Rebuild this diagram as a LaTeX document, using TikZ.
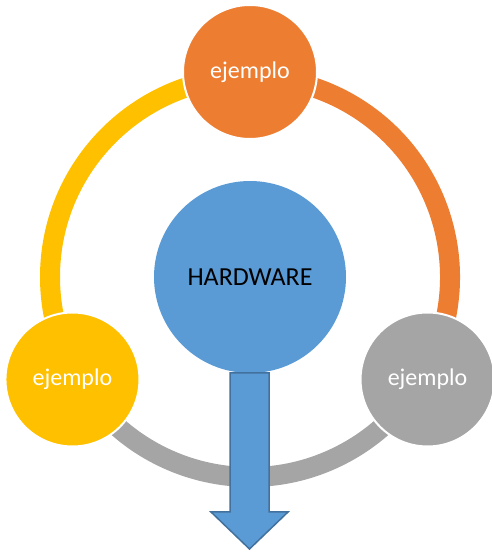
\documentclass[tikz,border=0pt]{standalone}
\usepackage{fontspec}
\setmainfont{Carlito}
\usepackage{xcolor}
\usepackage{tikz}
\usetikzlibrary{positioning, calc}

\definecolor{hwblue}{HTML}{5B9BD5}
\definecolor{hwblueline}{HTML}{41719C}
\definecolor{hworange}{HTML}{ED7D31}
\definecolor{hwyellow}{HTML}{FFC000}
\definecolor{hwgray}{HTML}{A5A5A5}

\tikzset{
  satellite/.style={circle, draw=white, line width=2pt, minimum size=134pt,
    inner sep=0pt, text=white, font=\fontsize{24}{28}\selectfont},
  ringarc/.style={line width=20pt},
}

\begin{document}
\begin{tikzpicture}[x=1pt,y=1pt]
    \def\ringr{200}
    \def\satr{205}
    \useasboundingbox (0,0) rectangle (492,552);

    \coordinate (ring) at (250,275);

    % Ring
    \draw[ringarc,hwyellow] (ring) ++(90:\ringr) arc[start angle=90, end angle=210, radius=\ringr];
    \draw[ringarc,hwgray] (ring) ++(210:\ringr) arc[start angle=210, end angle=330, radius=\ringr];
    \draw[ringarc,hworange] (ring) ++(-30:\ringr) arc[start angle=-30, end angle=90, radius=\ringr];

    % Centre
    \node[circle, fill=hwblue, minimum size=192pt, inner sep=0pt,
      font=\fontsize{26}{30}\selectfont] (hw) at (250,275) {HARDWARE};

    % Arrow
    \draw[hwblueline, fill=hwblue, line width=1.5pt, line join=miter]
      (230,179) -- (269,179) -- (269,40) -- (288,40) -- (249.5,3)
      -- (211,40) -- (230,40) -- cycle;

    % Satellites
    \node[satellite, fill=hworange] (top) at ($(ring)+(90:\satr)$) {ejemplo};
    \node[satellite, fill=hwyellow] (left) at ($(ring)+(210:\satr)$) {ejemplo};
    \node[satellite, fill=hwgray] (right) at ($(ring)+(330:\satr)$) {ejemplo};
\end{tikzpicture}
\end{document}
